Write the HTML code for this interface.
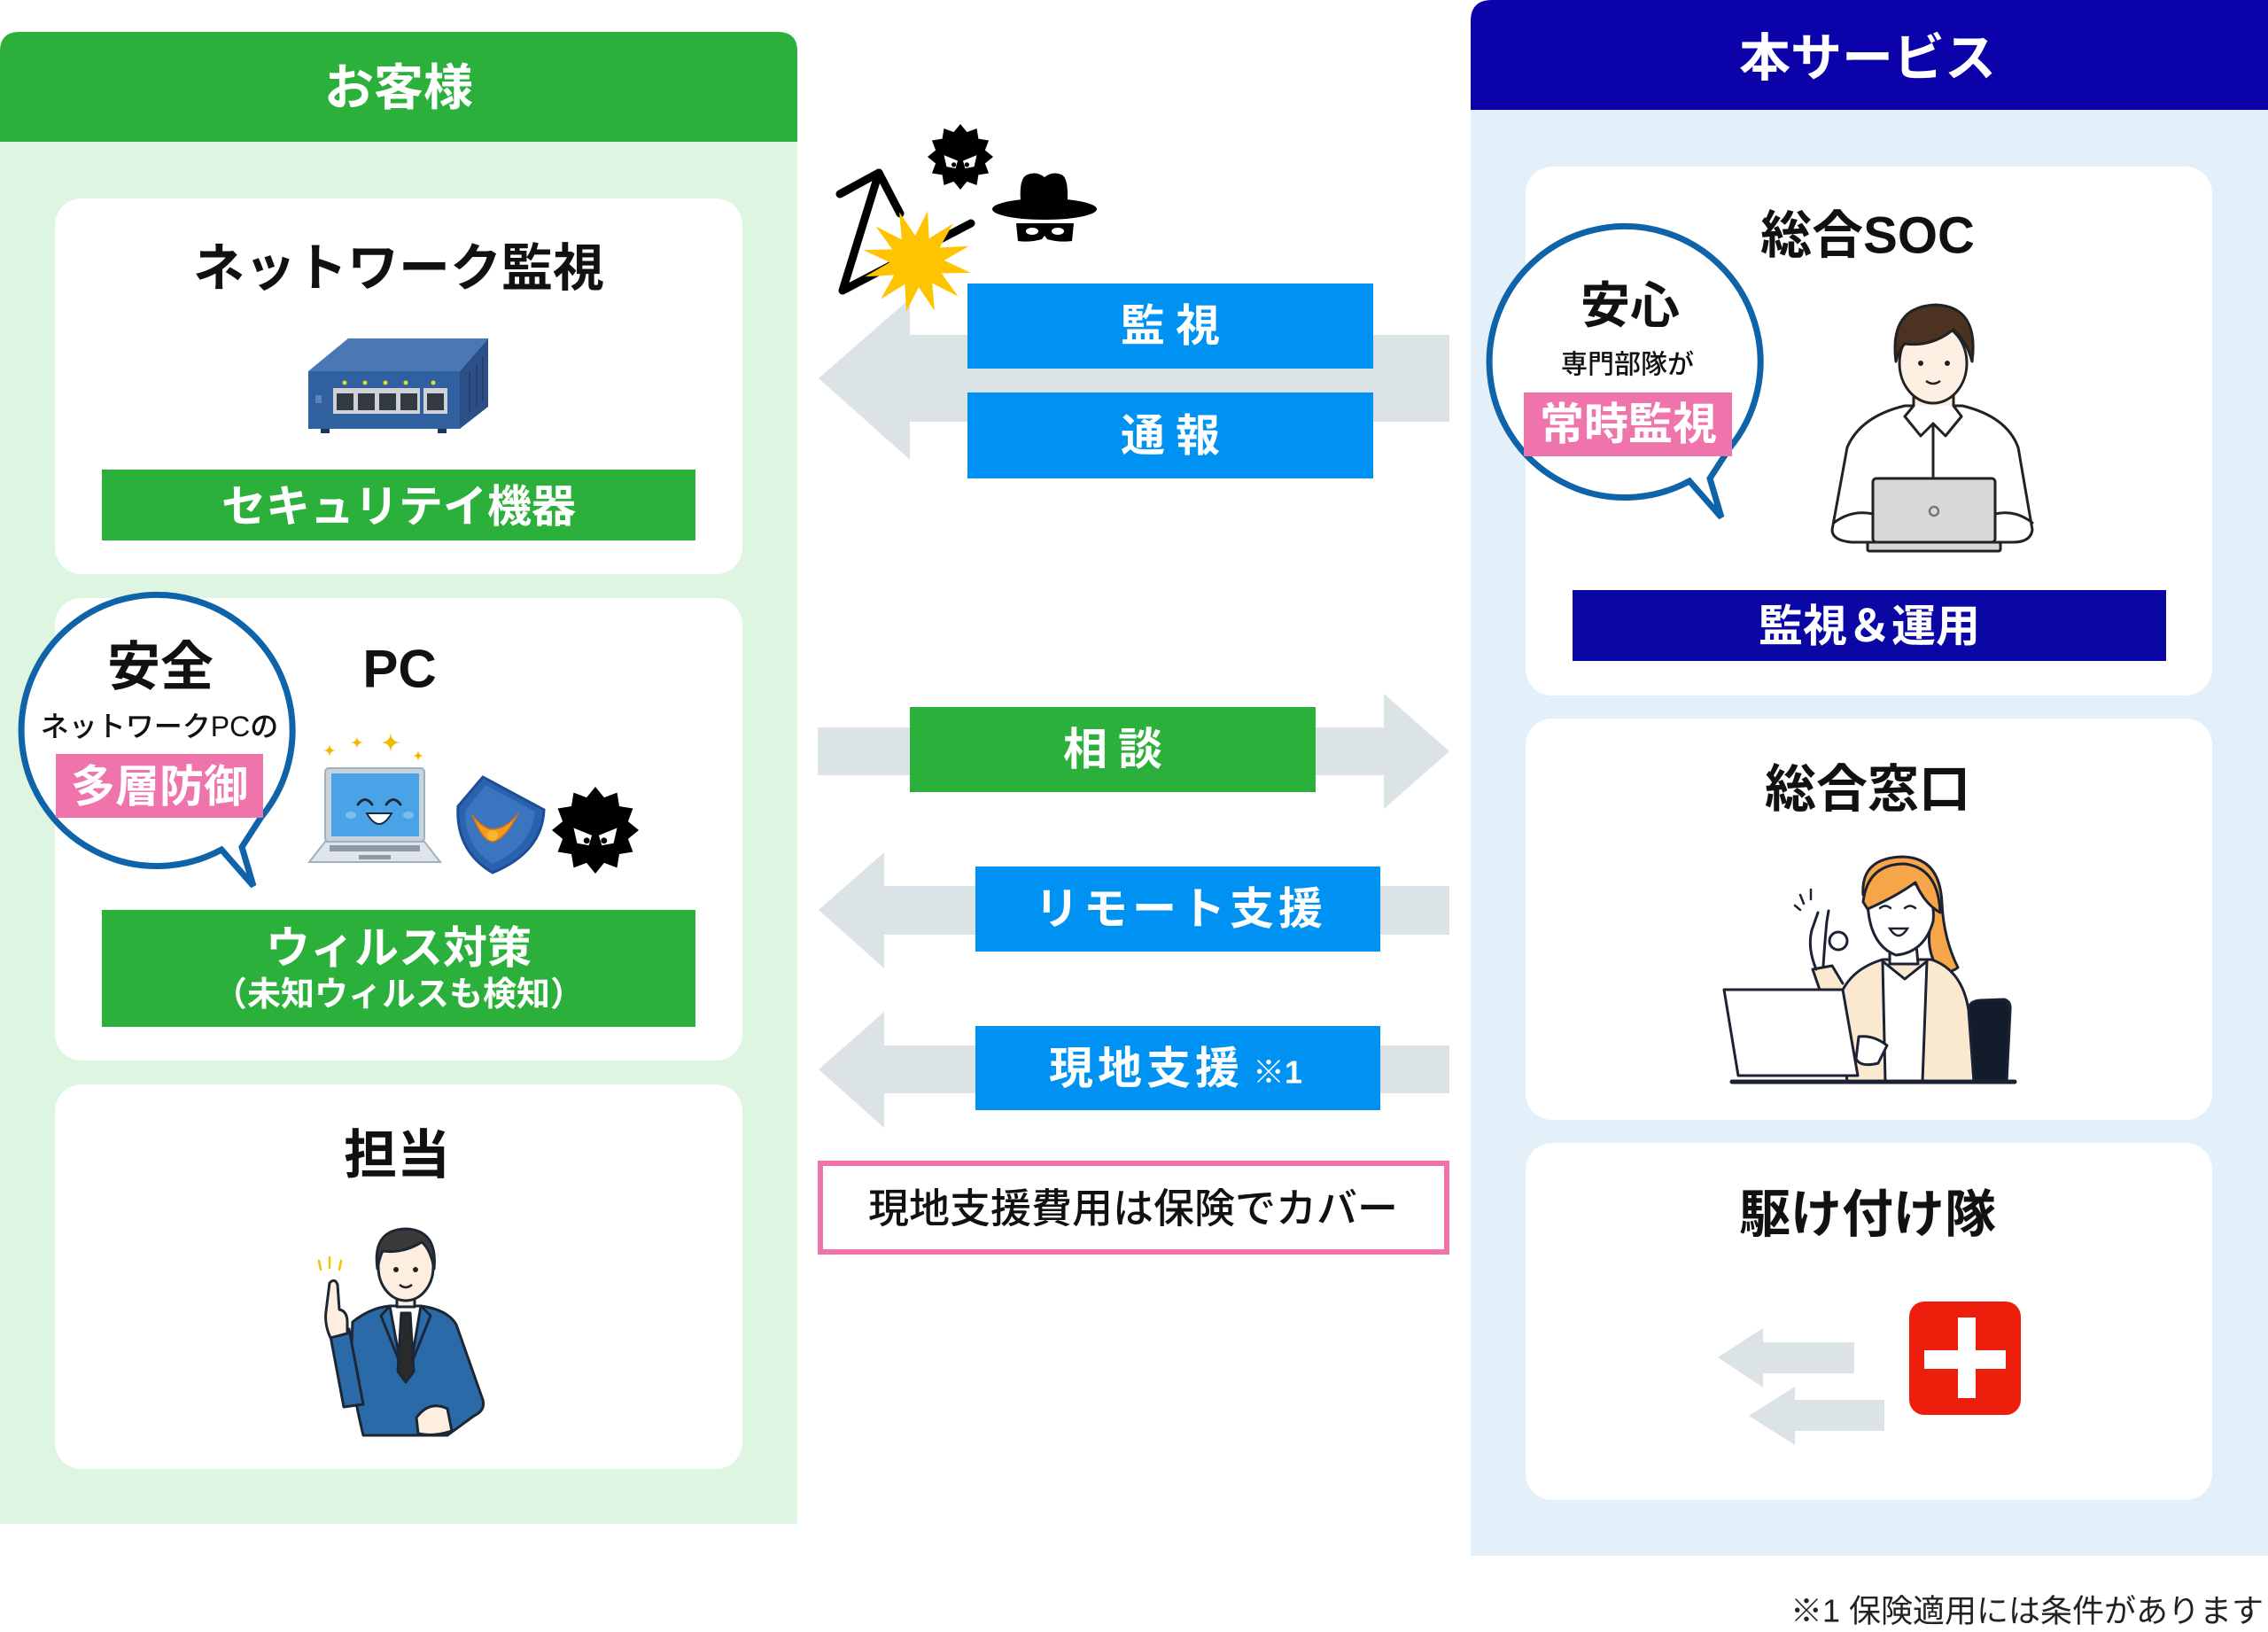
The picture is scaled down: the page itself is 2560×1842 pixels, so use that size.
<!DOCTYPE html>
<html><head><meta charset="utf-8">
<style>
html,body{margin:0;padding:0;background:#fff;}
svg{display:block;}
text{font-family:"Liberation Sans","Noto Sans CJK JP",sans-serif;}
.b{font-weight:700;}
</style></head><body>
<svg width="2560" height="1842" viewBox="0 0 2560 1842" xmlns="http://www.w3.org/2000/svg">
<!-- LEFT PANEL -->
<rect x="0" y="150" width="900" height="1570" fill="#ddf5e1"/>
<path d="M0,160 L0,58 Q0,36 22,36 L878,36 Q900,36 900,58 L900,160 Z" fill="#2bb13b"/>
<text x="450" y="99" class="b" font-size="56" fill="#fff" text-anchor="middle" dominant-baseline="central">お客様</text>
<rect x="62" y="224" width="776" height="424" rx="30" fill="#fff"/>
<rect x="62" y="675" width="776" height="522" rx="30" fill="#fff"/>
<rect x="62" y="1224" width="776" height="434" rx="30" fill="#fff"/>

<!-- RIGHT PANEL -->
<rect x="1660" y="110" width="900" height="1646" fill="#e3f0f9"/>
<path d="M1660,124 L1660,24 Q1660,0 1684,0 L2560,0 L2560,124 Z" fill="#0b03a9"/>
<text x="2108" y="66" class="b" font-size="58" fill="#fff" text-anchor="middle" dominant-baseline="central">本サービス</text>
<rect x="1722" y="188" width="775" height="597" rx="30" fill="#fff"/>
<rect x="1722" y="811" width="775" height="453" rx="30" fill="#fff"/>
<rect x="1722" y="1290" width="775" height="403" rx="30" fill="#fff"/>

<!-- GRAY ARROWS -->
<g fill="#dce3e7">
<polygon points="924,427 1027,337 1027,378 1636,378 1636,476 1027,476 1027,519"/>
<polygon points="923,821 1562,821 1562,783 1636,848 1562,913 1562,875 923,875"/>
<polygon points="924,1027 998,962 998,1000 1636,1000 1636,1055 998,1055 998,1093"/>
<polygon points="924,1207 998,1142 998,1180 1636,1180 1636,1234 998,1234 998,1273"/>
</g>

<!-- COLORED LABEL BOXES -->
<rect x="1092" y="320" width="458" height="96" fill="#0092f2"/>
<text x="1327" y="368" class="b" font-size="50" fill="#fff" text-anchor="middle" dominant-baseline="central" letter-spacing="12">監視</text>
<rect x="1092" y="443" width="458" height="97" fill="#0092f2"/>
<text x="1327" y="492" class="b" font-size="50" fill="#fff" text-anchor="middle" dominant-baseline="central" letter-spacing="12">通報</text>
<rect x="1027" y="798" width="458" height="96" fill="#2bb13b"/>
<text x="1262" y="846" class="b" font-size="50" fill="#fff" text-anchor="middle" dominant-baseline="central" letter-spacing="12">相談</text>
<rect x="1101" y="978" width="457" height="96" fill="#0092f2"/>
<text x="1333" y="1026" class="b" font-size="50" fill="#fff" text-anchor="middle" dominant-baseline="central" letter-spacing="5">リモート支援</text>
<rect x="1101" y="1158" width="457" height="95" fill="#0092f2"/>
<text x="1184" y="1206" class="b" font-size="50" fill="#fff" dominant-baseline="central" letter-spacing="5">現地支援</text>
<text x="1414" y="1210" class="b" font-size="36" fill="#fff" dominant-baseline="central">※1</text>

<rect x="926" y="1313" width="707" height="100" fill="#fff" stroke="#ef74ab" stroke-width="6"/>
<text x="1279" y="1364" font-size="46" font-weight="500" fill="#111" text-anchor="middle" dominant-baseline="central">現地支援費用は保険でカバー</text>

<!-- ATTACK ICONS -->
<g stroke="#000" stroke-width="9" fill="none" stroke-linecap="round" stroke-linejoin="round">
<polyline points="948,219 992,195 1016,241"/>
<polyline points="992,195 951,328 1096,252"/>
</g>
<polygon transform="translate(1035,295) rotate(12) scale(62,58)" fill="#ffc400" points="1,0 .483,.129 .866,.5 .354,.354 .5,.866 .129,.483 0,1 -.129,.483 -.5,.866 -.354,.354 -.866,.5 -.483,.129 -1,0 -.483,-.129 -.866,-.5 -.354,-.354 -.5,-.866 -.129,-.483 0,-1 .129,-.483 .5,-.866 .354,-.354 .866,-.5 .483,-.129"/>
<g transform="translate(1084,177) scale(37)">
<polygon fill="#000" points="1,0 .753,.202 .866,.5 .551,.551 .5,.866 .202,.753 0,1 -.202,.753 -.5,.866 -.551,.551 -.866,.5 -.753,.202 -1,0 -.753,-.202 -.866,-.5 -.551,-.551 -.5,-.866 -.202,-.753 0,-1 .202,-.753 .5,-.866 .551,-.551 .866,-.5 .753,-.202"/>
<path d="M-.5,-.05 L-.08,.12 L-.15,.35 L-.42,.3 Z" fill="#fff"/>
<path d="M.5,-.05 L.08,.12 L.15,.35 L.42,.3 Z" fill="#fff"/>
<circle cx="-.2" cy=".24" r=".07" fill="#000"/><circle cx=".2" cy=".24" r=".07" fill="#000"/>
</g>
<path d="M1152,227 Q1150,200 1160,197 Q1170,193 1179,200 Q1188,193 1198,197 Q1206,200 1205,227 Z" fill="#000"/>
<ellipse cx="1179" cy="236" rx="59" ry="12" fill="#000"/>
<path d="M1147,252 L1212,252 L1210,272 Q1196,274 1182,270 L1179,266 L1176,270 Q1162,274 1149,272 Z" fill="#000"/>
<ellipse cx="1165" cy="261" rx="7" ry="4" fill="#fff"/><ellipse cx="1194" cy="261" rx="7" ry="4" fill="#fff"/>

<!-- CARD: NETWORK -->
<text x="450" y="303" class="b" font-size="58" fill="#111" text-anchor="middle" dominant-baseline="central">ネットワーク監視</text>
<polygon points="348,419 393,382 551,382 519,419" fill="#4a78b5"/>
<polygon points="519,419 551,382 551,459 519,484" fill="#2b4f86"/>
<rect x="348" y="419" width="171" height="65" fill="#30609e"/>
<g stroke="#233f6c" stroke-width="2"><line x1="530" y1="420" x2="530" y2="465"/><line x1="538" y1="412" x2="538" y2="458"/><line x1="545" y1="402" x2="545" y2="452"/></g>
<rect x="356" y="446" width="7" height="9" fill="#5a84bc"/>
<rect x="376" y="438" width="98" height="29" fill="#cfd3d6"/>
<rect x="478" y="438" width="27" height="29" fill="#cfd3d6"/>
<g fill="#333a44"><rect x="380" y="444" width="19" height="19"/><rect x="404" y="444" width="19" height="19"/><rect x="428" y="444" width="19" height="19"/><rect x="452" y="444" width="19" height="19"/><rect x="482" y="444" width="19" height="19"/></g>
<g fill="#d9e226"><circle cx="389" cy="432" r="2.5"/><circle cx="412" cy="432" r="2.5"/><circle cx="435" cy="432" r="2.5"/><circle cx="458" cy="432" r="2.5"/><circle cx="489" cy="432" r="2.5"/></g>
<rect x="362" y="484" width="10" height="5" fill="#1c3560"/><rect x="494" y="484" width="10" height="5" fill="#1c3560"/>
<rect x="115" y="530" width="670" height="80" fill="#2bb13b"/>
<text x="450" y="572" class="b" font-size="50" fill="#fff" text-anchor="middle" dominant-baseline="central">セキュリテイ機器</text>

<!-- CARD: PC -->
<text x="451" y="755" class="b" font-size="60" fill="#111" text-anchor="middle" dominant-baseline="central">PC</text>
<g fill="#f5b800">
<path d="M372,839 Q372,847 380,847 Q372,847 372,855 Q372,847 364,847 Q372,847 372,839 Z"/>
<path d="M403,830 Q403,838 411,838 Q403,838 403,846 Q403,838 395,838 Q403,838 403,830 Z"/>
<path d="M441,826 Q441,838 453,838 Q441,838 441,850 Q441,838 429,838 Q441,838 441,826 Z"/>
<path d="M472,846 Q472,853 479,853 Q472,853 472,860 Q472,853 465,853 Q472,853 472,846 Z"/>
</g>
<rect x="367" y="867" width="112" height="83" rx="4" fill="#c9d3dc" stroke="#9fb0bf" stroke-width="2"/>
<rect x="374" y="873" width="99" height="71" fill="#4aa3e6"/>
<polygon points="367,950 479,950 497,973 349,973" fill="#dfe5ea" stroke="#9fb0bf" stroke-width="2"/>
<rect x="372" y="954" width="102" height="7" fill="#8c9aa6"/>
<rect x="405" y="965" width="36" height="5" fill="#8c9aa6"/>
<g stroke="#1a2a40" stroke-width="3" fill="none" stroke-linecap="round"><path d="M404,908 q8,-11 16,0"/><path d="M436,908 q8,-11 16,0"/></g>
<path d="M414,918 q14,24 28,0 Z" fill="#fff" stroke="#1a2a40" stroke-width="2"/>
<ellipse cx="396" cy="920" rx="6" ry="4" fill="#7bbcf0"/><ellipse cx="461" cy="920" rx="6" ry="4" fill="#7bbcf0"/>
<path d="M545,877 L614,914 Q612,962 556,985 Q514,960 517,910 Z" fill="#2a62ad" stroke="#1b4e95" stroke-width="3"/>
<path d="M548,886 L604,916 Q600,955 556,975 Q524,955 525,915 Z" fill="#3b74bf"/>
<path d="M533,920 Q545,950 556,950 Q570,948 585,918 Q572,935 556,936 Q545,935 533,920 Z" fill="#f39c1f" stroke="#c9701a" stroke-width="1.5"/>
<circle cx="556" cy="943" r="6" fill="#f7b733"/>
<g transform="translate(672,937) scale(49)">
<polygon fill="#000" points="1,0 .753,.202 .866,.5 .551,.551 .5,.866 .202,.753 0,1 -.202,.753 -.5,.866 -.551,.551 -.866,.5 -.753,.202 -1,0 -.753,-.202 -.866,-.5 -.551,-.551 -.5,-.866 -.202,-.753 0,-1 .202,-.753 .5,-.866 .551,-.551 .866,-.5 .753,-.202"/>
<path d="M-.5,-.05 L-.08,.12 L-.15,.35 L-.42,.3 Z" fill="#fff"/>
<path d="M.5,-.05 L.08,.12 L.15,.35 L.42,.3 Z" fill="#fff"/>
<circle cx="-.2" cy=".24" r=".07" fill="#000"/><circle cx=".2" cy=".24" r=".07" fill="#000"/>
</g>
<rect x="115" y="1027" width="670" height="132" fill="#2bb13b"/>
<text x="450" y="1070" class="b" font-size="50" fill="#fff" text-anchor="middle" dominant-baseline="central">ウィルス対策</text>
<text x="450" y="1123" class="b" font-size="38" fill="#fff" text-anchor="middle" dominant-baseline="central">（未知ウィルスも検知）</text>

<!-- LEFT BUBBLE -->
<path transform="translate(-1657,416)" d="M1907,543 A153,153 0 1 1 1952,506 L1930,540 L1943,584 Z" fill="#fff" stroke="#0f63a8" stroke-width="7"/>
<text x="181" y="753" class="b" font-size="60" fill="#111" text-anchor="middle" dominant-baseline="central">安全</text>
<text x="180" y="820" font-size="32" font-weight="500" fill="#111" text-anchor="middle" dominant-baseline="central">ネットワークPCの</text>
<rect x="63" y="851" width="234" height="72" fill="#ef74ab"/>
<text x="180" y="888" class="b" font-size="50" fill="#fff" text-anchor="middle" dominant-baseline="central">多層防御</text>

<!-- CARD: 担当 -->
<text x="448" y="1304" class="b" font-size="60" fill="#111" text-anchor="middle" dominant-baseline="central">担当</text>
<g stroke="#f2c200" stroke-width="2.5" stroke-linecap="round"><line x1="360" y1="1423" x2="362" y2="1433"/><line x1="372" y1="1419" x2="372" y2="1431"/><line x1="385" y1="1423" x2="383" y2="1433"/></g>
<g stroke="#1d2733" stroke-width="3" stroke-linejoin="round">
<path d="M398,1492 Q418,1476 440,1474 L475,1474 Q505,1478 515,1495 L545,1580 Q548,1592 535,1598 L505,1620 L410,1620 Q398,1570 396,1540 Z" fill="#2a6aa8"/>
<path d="M373,1508 L394,1500 L410,1585 L388,1588 Z" fill="#2a6aa8"/>
<path d="M372,1448 Q378,1442 381,1450 L383,1478 Q392,1480 392,1492 L392,1505 L373,1510 Q366,1495 368,1480 Z" fill="#fdeee0"/>
<path d="M440,1474 L475,1474 L464,1540 L452,1540 Z" fill="#fff"/>
<path d="M453,1482 L463,1482 L467,1548 L458,1560 L449,1548 Z" fill="#2a2a2a"/>
<path d="M440,1474 L430,1485 L452,1540 M475,1474 L486,1485 L464,1540" fill="none"/>
<path d="M470,1600 Q485,1580 505,1590 L510,1615 Q490,1622 472,1618 Z" fill="#fdeee0"/>
<rect x="448" y="1455" width="20" height="20" fill="#fdeee0"/>
<ellipse cx="458" cy="1430" rx="31" ry="38" fill="#fdeee0"/>
<path d="M426,1432 Q420,1388 458,1387 Q494,1388 490,1432 Q486,1410 476,1402 Q455,1415 432,1412 Q428,1420 426,1432 Z" fill="#3a3a3a"/>
</g>
<circle cx="447" cy="1433" r="3" fill="#222"/><circle cx="469" cy="1433" r="3" fill="#222"/>
<path d="M451,1450 q7,6 14,0" stroke="#222" stroke-width="2.5" fill="none"/>

<!-- CARD: SOC -->
<text x="2108" y="266" class="b" font-size="58" fill="#111" text-anchor="middle" dominant-baseline="central">総合SOC</text>
<g stroke="#222" stroke-width="3" stroke-linejoin="round" stroke-linecap="round">
<path d="M2085,505 Q2100,470 2150,458 L2215,458 Q2265,470 2278,505 L2294,598 Q2292,612 2272,612 L2090,612 Q2068,610 2068,598 Z" fill="#fff"/>
<path d="M2160,440 L2160,462 L2182,480 L2205,462 L2205,440 Z" fill="#fdefe2"/>
<path d="M2160,458 L2150,470 L2168,492 L2182,478 L2196,492 L2214,470 L2205,458" fill="#fff"/>
<line x1="2182" y1="480" x2="2182" y2="540"/>
<ellipse cx="2182" cy="410" rx="38" ry="45" fill="#fdefe2"/>
<path d="M2140,408 Q2132,346 2185,344 Q2234,346 2226,408 Q2220,385 2205,372 Q2180,392 2150,388 Q2143,395 2140,408 Z" fill="#4b3221"/>
<rect x="2114" y="540" width="138" height="72" rx="4" fill="#d6d8da"/>
<rect x="2108" y="612" width="150" height="10" rx="2" fill="#d6d8da"/>
<path d="M2070,590 Q2090,575 2114,580 M2294,590 Q2275,575 2252,580" fill="none"/>
</g>
<circle cx="2168" cy="410" r="3" fill="#222"/><circle cx="2198" cy="410" r="3" fill="#222"/>
<path d="M2174,430 q8,6 16,0" stroke="#222" stroke-width="2.5" fill="none"/>
<circle cx="2183" cy="577" r="5" fill="none" stroke="#777" stroke-width="2.5"/>
<rect x="1775" y="666" width="670" height="80" fill="#0b07a5"/>
<text x="2110" y="707" class="b" font-size="50" fill="#fff" text-anchor="middle" dominant-baseline="central">監視＆運用</text>

<!-- SOC BUBBLE -->
<path d="M1907,543 A153,153 0 1 1 1952,506 L1930,540 L1943,584 Z" fill="#fff" stroke="#0f63a8" stroke-width="7"/>
<text x="1840" y="345" class="b" font-size="56" fill="#111" text-anchor="middle" dominant-baseline="central">安心</text>
<text x="1837" y="412" font-size="30" font-weight="500" fill="#111" text-anchor="middle" dominant-baseline="central">専門部隊が</text>
<rect x="1720" y="443" width="235" height="72" fill="#ef74ab"/>
<text x="1838" y="479" class="b" font-size="50" fill="#fff" text-anchor="middle" dominant-baseline="central">常時監視</text>

<!-- CARD: 総合窓口 -->
<text x="2108" y="891" class="b" font-size="58" fill="#111" text-anchor="middle" dominant-baseline="central">総合窓口</text>
<g stroke="#1b2233" stroke-width="3" stroke-linejoin="round" stroke-linecap="round">
<path d="M2222,1140 Q2222,1130 2235,1129 L2262,1128 Q2270,1130 2269,1140 L2265,1221 L2222,1221 Z" fill="#131c2b"/>
<path d="M2103,1010 Q2100,968 2148,967 Q2190,968 2192,1020 Q2194,1060 2210,1092 Q2200,1100 2188,1094 Q2175,1075 2178,1050 Z" fill="#f6a548"/>
<path d="M2075,1130 Q2085,1095 2125,1083 L2180,1083 Q2215,1095 2222,1140 L2228,1221 L2085,1221 Z" fill="#fbe9cf"/>
<path d="M2125,1085 L2150,1105 L2175,1085 L2170,1221 L2128,1221 Z" fill="#fff"/>
<path d="M2133,1066 L2133,1088 L2165,1088 L2163,1066 Z" fill="#fff"/>
<path d="M2108,1005 Q2106,1065 2140,1078 Q2172,1075 2182,1040 Q2186,1000 2150,995 Z" fill="#fff"/>
<path d="M2103,1018 Q2108,975 2150,975 Q2188,980 2190,1030 Q2172,1020 2162,996 Q2140,1012 2108,1026 Z" fill="#f6a548"/>
<path d="M2078,1125 L2055,1120 L2046,1094 L2068,1090 L2080,1110" fill="#fbe9cf"/>
<path d="M2050,1094 Q2040,1070 2045,1050 L2052,1030 M2058,1090 Q2060,1060 2062,1040 L2064,1028" fill="none"/>
<circle cx="2075" cy="1062" r="10" fill="none"/>
<path d="M1946,1117 L2080,1117 L2097,1214 L1962,1214 Z" fill="#fff"/>
<path d="M2098,1170 Q2115,1168 2130,1180 L2120,1200 Q2100,1205 2095,1195 Z" fill="#fff"/>
<line x1="1955" y1="1221" x2="2274" y2="1221" stroke-width="5"/>
</g>
<g stroke="#1b2233" stroke-width="2.5" fill="none" stroke-linecap="round">
<path d="M2122,1025 q6,-5 12,0"/><path d="M2150,1025 q6,-5 12,0"/>
<line x1="2032" y1="1010" x2="2036" y2="1020"/><line x1="2044" y1="1004" x2="2044" y2="1015"/><line x1="2026" y1="1022" x2="2032" y2="1027"/>
</g>
<path d="M2133,1048 q10,16 20,0 Z" fill="#fff" stroke="#1b2233" stroke-width="2.5"/>

<!-- CARD: 駆け付け隊 -->
<text x="2108" y="1371" class="b" font-size="58" fill="#111" text-anchor="middle" dominant-baseline="central">駆け付け隊</text>
<g fill="#dce3e7">
<polygon points="1939,1532 1990,1499 1990,1515 2093,1515 2093,1550 1990,1550 1990,1566"/>
<polygon points="1974,1598 2026,1565 2026,1580 2127,1580 2127,1615 2026,1615 2026,1631"/>
</g>
<rect x="2155" y="1469" width="126" height="128" rx="17" fill="#ee1e0c"/>
<rect x="2210" y="1487" width="20" height="91" fill="#fff"/>
<rect x="2172" y="1524" width="92" height="21" fill="#fff"/>

<!-- FOOTNOTE -->
<text x="2555" y="1818" font-size="36" fill="#222" text-anchor="end" dominant-baseline="central">※1 保険適用には条件があります</text>
</svg>
</body></html>
